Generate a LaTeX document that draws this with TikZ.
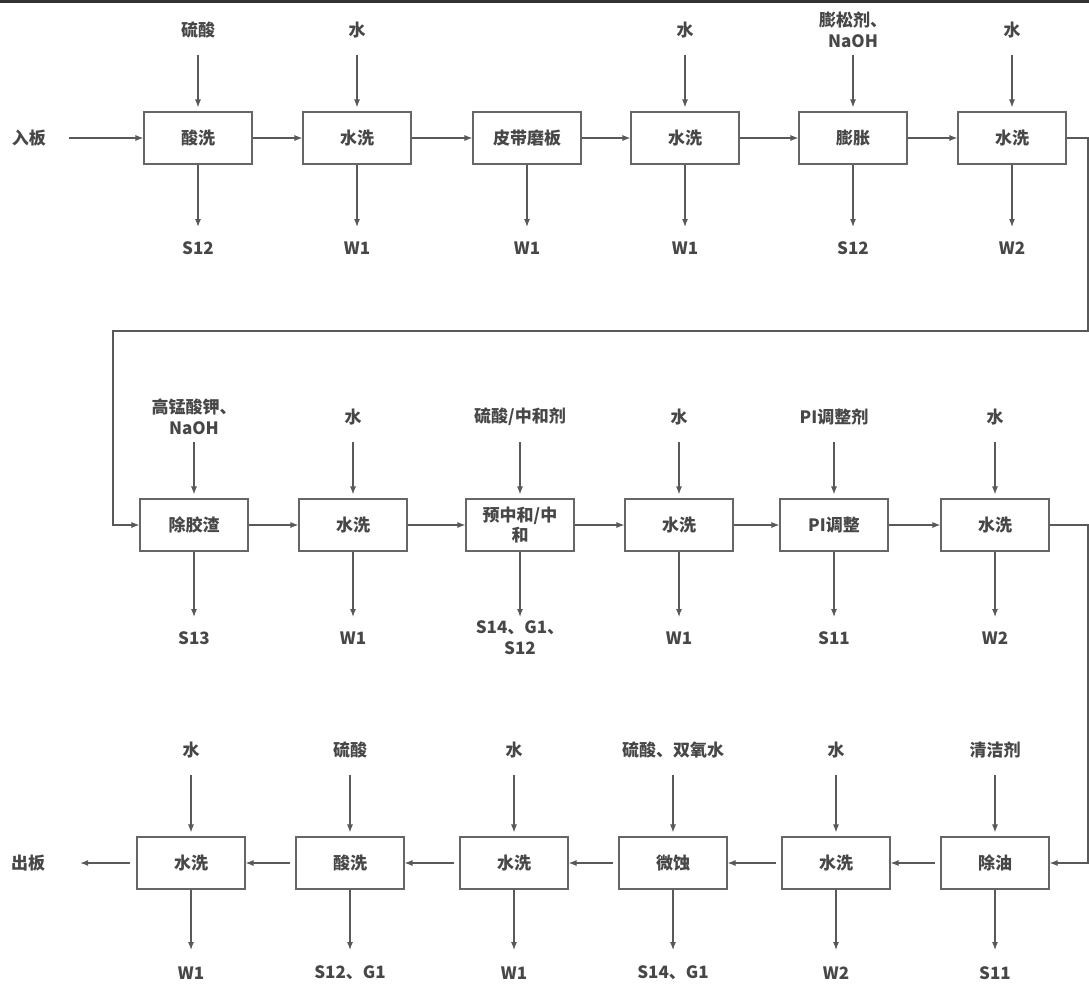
\documentclass[tikz,border=0pt]{standalone}
\usepackage{fontspec}
\setmainfont{Noto Sans CJK SC}
\usetikzlibrary{arrows.meta}

\tikzset{
  proc/.style={draw=black!60, line width=1.1pt, minimum width=108pt,
    minimum height=52pt, inner sep=0pt, align=center, text=black!72,
    font=\fontsize{17}{20}\selectfont\bfseries},
  lbl/.style={inner sep=0pt, align=center, text=black!72,
    font=\fontsize{17}{21}\selectfont\bfseries},
  flow/.style={draw=black!65, line width=1.1pt,
    -{Latex[length=8pt,width=6pt]}}
}

\begin{document}
\begin{tikzpicture}[x=1pt,y=-1pt]
 	\useasboundingbox (0,0) rectangle (1089,990);
 	\fill[black!80] (0,0) rectangle (1089,3);

 	% first row, left to right
 	\foreach \n/\x/\t/\o in {1/198/酸洗/S12, 2/357/水洗/W1, 3/527/皮带磨板/W1,
 			4/685/水洗/W1, 5/853/膨胀/S12, 6/1012/水洗/W2}{
 		\node[proc] (a\n) at (\x,138) {\t};
 		\node[lbl] (ao\n) at (\x,248) {\o};
 		\draw[flow] (a\n) -- ([yshift=21pt]ao\n.center);
 	}
 	\foreach \n/\i in {1/硫酸, 2/水, 4/水, 5/{膨松剂、\\NaOH}, 6/水}{
 		\node[lbl] (ai\n) at (a\n |- 0,30) {\i};
 		\draw[flow,shorten >=4pt] ([yshift=-25pt]ai\n.center) -- (a\n);
 	}
 	\foreach \p/\n in {1/2, 2/3, 3/4, 4/5, 5/6}
 		\draw[flow] (a\p) -- (a\n);
 	\node[lbl] (inb) at (29,138) {入板};
 	\draw[flow,shorten <=23pt] (inb) -- (a1);

 	% second row, left to right
 	\foreach \n/\x/\t/\i/\o in {1/194/除胶渣/{高锰酸钾、\\NaOH}/S13,
 			2/353/水洗/水/W1, 3/520/{预中和/中\\和}/{硫酸/中和剂}/{S14、G1、\\S12},
 			4/679/水洗/水/W1, 5/834/PI调整/PI调整剂/S11, 6/995/水洗/水/W2}{
 		\node[proc] (b\n) at (\x,525) {\t};
 		\node[lbl] (bi\n) at (\x,417) {\i};
 		\node[lbl] (bo\n) at (\x,638) {\o};
 		\draw[flow,shorten >=4pt] ([yshift=-25pt]bi\n.center) -- (b\n);
 		\draw[flow] (b\n) -- ([yshift=21pt]bo\n.center);
 	}
 	\foreach \p/\n in {1/2, 2/3, 3/4, 4/5, 5/6}
 		\draw[flow] (b\p) -- (b\n);

 	% third row, right to left
 	\foreach \n/\x/\t/\i/\o in {1/191/水洗/水/W1, 2/350/酸洗/硫酸/{S12、G1},
 			3/514/水洗/水/W1, 4/673/微蚀/{硫酸、双氧水}/{S14、G1},
 			5/836/水洗/水/W2, 6/995/除油/清洁剂/S11}{
 		\node[proc] (c\n) at (\x,863) {\t};
 		\node[lbl] (ci\n) at (\x,750) {\i};
 		\node[lbl] (co\n) at (\x,973) {\o};
 		\draw[flow,shorten >=4pt] ([yshift=-25pt]ci\n.center) -- (c\n);
 		\draw[flow] (c\n) -- ([yshift=23pt]co\n.center);
 	}
 	\foreach \p/\n in {1/2, 2/3, 3/4, 4/5, 5/6}
 		\draw[flow,shorten <=5pt] (c\n) -- (c\p);
 	\node[lbl] (outb) at (28,863) {出板};
 	\draw[flow,shorten <=6pt,shorten >=35pt] (c1) -- (outb);

 	% returns between rows
 	\coordinate (t1) at (1088,331);
 	\coordinate (t2) at (113,331);
 	\coordinate (t3) at (1088,863);
 	\draw[flow] (a6.east) -| (t1) -- (t2) |- (b1.west);
 	\draw[flow] (b6.east) -| (t3) -- (c6.east);
\end{tikzpicture}
\end{document}
